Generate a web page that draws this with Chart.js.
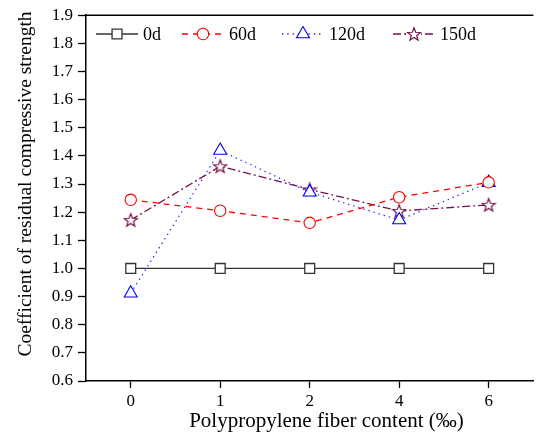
<!DOCTYPE html>
<html>
<head>
<meta charset="utf-8">
<script src="https://cdn.jsdelivr.net/npm/chart.js@4.4.0/dist/chart.umd.min.js"></script>
<style>
    html, body { margin: 0; padding: 0; background: #fff; }
</style>
</head>
<body>
<canvas id="chart" width="542" height="435"></canvas>
<script>
// data
var categories = ['0', '1', '2', '4', '6'];
var seriesLabels = ['0d', '60d', '120d', '150d'];
var yMin = 0.6, yMax = 1.9, yStep = 0.1;
var values0d   = [1.0, 1.0, 1.0, 1.0, 1.0];
var values60d  = [1.244, 1.205, 1.162, 1.253, 1.306];
var values120d = [0.912, 1.419, 1.271, 1.172, 1.305];
var values150d = [1.172, 1.363, 1.281, 1.204, 1.226];

var FONT = 'Liberation Serif, Times New Roman, serif';
var purple = '#74124a';

function makeStar(color) {
    var c = document.createElement('canvas');
    c.width = 16; c.height = 16;
    var g = c.getContext('2d');
    g.beginPath();
    for (var i = 0; i < 10; i++) {
        var r = i % 2 === 0 ? 6.8 : 2.9;
        var a = -Math.PI / 2 + i * Math.PI / 5;
        g.lineTo(8 + r * Math.cos(a), 8.6 + r * Math.sin(a));
    }
    g.closePath();
    g.fillStyle = '#fff';
    g.fill();
    g.strokeStyle = color;
    g.lineWidth = 1.2;
    g.stroke();
    return c;
}
var star = makeStar(purple);

// line + marker legend drawn inside the plot, like the original figure
var legendPlugin = {
    id: 'lineLegend',
    afterDraw: function(chart) {
        var ctx = chart.ctx;
        var starts = [96, 182, 282, 393];
        var y = 34;
        ctx.save();
        chart.data.datasets.forEach(function(ds, i) {
            var x = starts[i];
            ctx.strokeStyle = ds.borderColor;
            ctx.lineWidth = ds.borderWidth;
            ctx.setLineDash(ds.borderDash || []);
            ctx.beginPath();
            ctx.moveTo(x, y);
            ctx.lineTo(x + 42, y);
            ctx.stroke();
            ctx.setLineDash([]);
            if (ds.pointStyle instanceof HTMLCanvasElement) {
                ctx.fillStyle = '#fff';
                ctx.fillRect(x + 21 - 7, y - 7, 14, 14);
                ctx.drawImage(ds.pointStyle, x + 21 - 8, y - 8);
            } else {
                ctx.fillStyle = '#fff';
                ctx.strokeStyle = ds.pointBorderColor;
                ctx.lineWidth = ds.pointBorderWidth;
                Chart.helpers.drawPoint(ctx, {
                    pointStyle: ds.pointStyle,
                    radius: ds.pointRadius,
                    rotation: 0,
                    borderWidth: ds.pointBorderWidth
                }, x + 21, y);
            }
            ctx.fillStyle = '#000';
            ctx.font = '18px ' + FONT;
            ctx.textBaseline = 'alphabetic';
            ctx.fillText(ds.label, x + 47, y + 6);
        });
        ctx.restore();
    }
};

// top frame line and the two axis titles
var framePlugin = {
    id: 'frame',
    afterDraw: function(chart) {
        var ctx = chart.ctx, a = chart.chartArea;
        ctx.save();
        ctx.strokeStyle = '#000';
        ctx.lineWidth = 1.5;
        ctx.beginPath();
        ctx.moveTo(a.left, a.top);
        ctx.lineTo(a.right, a.top);
        ctx.stroke();

        ctx.fillStyle = '#000';
        ctx.textAlign = 'center';
        ctx.textBaseline = 'alphabetic';
        ctx.font = '21px ' + FONT;
        ctx.fillText('Polypropylene fiber content (\u2030)', 326.5, 427);
        ctx.font = '19.5px ' + FONT;
        ctx.translate(31, 184);
        ctx.rotate(-Math.PI / 2);
        ctx.fillText('Coefficient of residual compressive strength', 0, 0);
        ctx.restore();
    }
};

var ctx = document.getElementById('chart').getContext('2d');
var chart = new Chart(ctx, {
    type: 'line',
    data: {
        labels: categories,
        datasets: [{
            label: seriesLabels[0],
            data: values0d,
            borderColor: '#333',
            borderWidth: 1.3,
            pointStyle: 'rect',
            pointRadius: 7,
            pointBorderColor: '#333',
            pointBorderWidth: 1.3,
            pointBackgroundColor: '#fff'
        }, {
            label: seriesLabels[1],
            data: values60d,
            borderColor: '#ff0000',
            borderWidth: 1.3,
            borderDash: [6, 5],
            pointStyle: 'circle',
            pointRadius: 5.7,
            pointBorderColor: '#ff0000',
            pointBorderWidth: 1.1,
            pointBackgroundColor: '#fff'
        }, {
            label: seriesLabels[2],
            data: values120d,
            borderColor: '#2020ff',
            borderWidth: 1.3,
            borderDash: [1.3, 4],
            pointStyle: 'triangle',
            pointRadius: 7.5,
            pointBorderColor: '#0000ff',
            pointBorderWidth: 1.1,
            pointBackgroundColor: '#fff'
        }, {
            label: seriesLabels[3],
            data: values150d,
            borderColor: purple,
            borderWidth: 1.3,
            borderDash: [8, 3, 2, 3],
            pointStyle: star,
            pointRadius: 7,
            pointBorderColor: purple,
            pointBackgroundColor: '#fff'
        }]
    },
    options: {
        responsive: false,
        animation: false,
        devicePixelRatio: 1,
        layout: { padding: { top: 12, right: 0, left: 0, bottom: 0 } },
        plugins: {
            legend: { display: false },
            tooltip: { enabled: false }
        },
        elements: { line: { tension: 0 } },
        scales: {
            x: {
                offset: true,
                grid: { drawOnChartArea: false, tickLength: 7, tickColor: '#000', tickWidth: 1.3 },
                border: { color: '#000', width: 1.5 },
                ticks: { color: '#000', padding: 3, font: { family: FONT, size: 17 } },
                afterFit: function(scale) { scale.height = 54; }
            },
            y: {
                min: yMin,
                max: yMax,
                grid: { drawOnChartArea: false, tickLength: 8, tickColor: '#000', tickWidth: 1.3 },
                border: { color: '#000', width: 1.5 },
                ticks: {
                    stepSize: yStep,
                    color: '#000',
                    padding: 5,
                    font: { family: FONT, size: 17 },
                    callback: function(v) { return Number(v).toFixed(1); }
                },
                afterFit: function(scale) { scale.width = 86; }
            }
        }
    },
    plugins: [legendPlugin, framePlugin]
});
</script>
</body>
</html>
